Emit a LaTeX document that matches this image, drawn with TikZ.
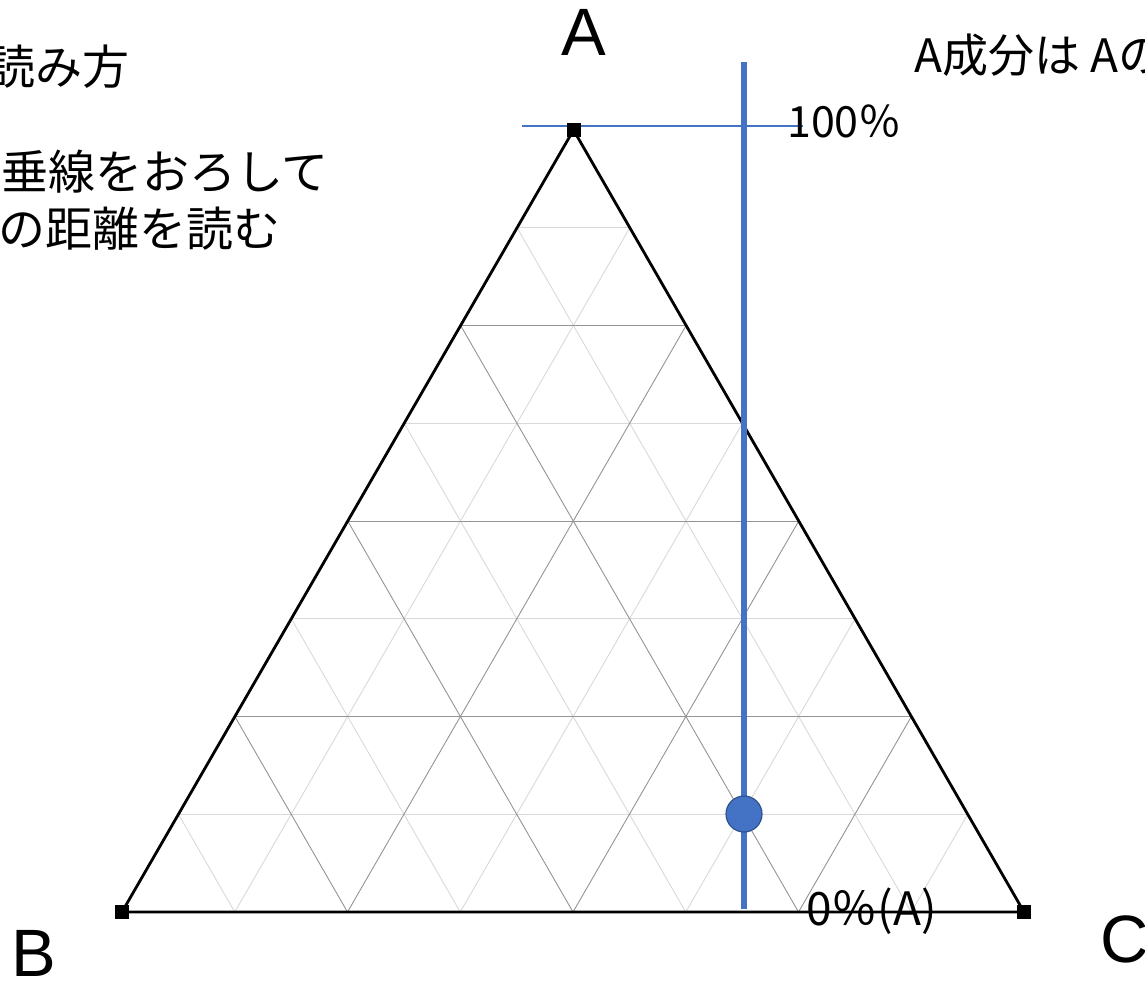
\documentclass[tikz,border=0pt]{standalone}
\usepackage{fontspec}
\usetikzlibrary{calc}
\newfontfamily\jpfont{Noto Sans CJK JP}
\newfontfamily\labfont{Liberation Sans}
\definecolor{accblue}{HTML}{4472C4}
\definecolor{accedge}{HTML}{2F528F}
\tikzset{
  x=1pt, y=-1pt,
  gridlight/.style={draw=black!15, line width=0.9pt},
  griddark/.style={draw=black!42, line width=0.9pt},
  edge/.style={draw=black, line width=2.8pt},
  vsq/.style={fill=black, minimum size=14pt, inner sep=0pt, outer sep=0pt},
  vlab/.style={inner sep=0pt, font=\labfont\fontsize{67}{78}\selectfont},
  jptext/.style={inner sep=0pt, font=\jpfont\fontsize{47}{56}\selectfont},
  pctext/.style={inner sep=0pt, font=\jpfont\fontsize{43}{50}\selectfont},
  zerotext/.style={inner sep=0pt, font=\jpfont\fontsize{46}{54}\selectfont},
  thinblue/.style={draw=accblue, line width=1.3pt},
  thickblue/.style={draw=accblue, line width=6pt},
  dot/.style={circle, fill=accblue, draw=accedge, line width=1.2pt, minimum size=36pt, inner sep=0pt}
}
\begin{document}
\begin{tikzpicture}
\useasboundingbox (0,0) rectangle (1145,981);
\coordinate (A) at (573.5,130);
\coordinate (B) at (122,912);
\coordinate (C) at (1024,912);
% grid
\foreach \i in {1,3,5,7}{
  \draw[gridlight] ($(B)!\i/8!(A)$) -- ($(C)!\i/8!(A)$);
  \draw[gridlight] ($(B)!\i/8!(C)$) -- ($(A)!\i/8!(C)$);
  \draw[gridlight] ($(C)!\i/8!(B)$) -- ($(A)!\i/8!(B)$);
}
\foreach \i in {2,4,6}{
  \draw[griddark] ($(B)!\i/8!(A)$) -- ($(C)!\i/8!(A)$);
  \draw[griddark] ($(B)!\i/8!(C)$) -- ($(A)!\i/8!(C)$);
  \draw[griddark] ($(C)!\i/8!(B)$) -- ($(A)!\i/8!(B)$);
}
% triangle
\draw[edge, line join=miter] (A) -- (B) -- (C) -- cycle;
% thin blue line at 100%
\coordinate (hl) at (522,126);
\coordinate (hr) at (803,126);
\draw[thinblue] (hl) -- (hr);
% vertex squares
\node[vsq] (sqA) at (A) {};
\node[vsq] (sqB) at (B) {};
\node[vsq] (sqC) at (C) {};
% perpendicular
\coordinate (vtop) at (744,62);
\coordinate (vbot) at (744,909);
\draw[thickblue] (vtop) -- (vbot);
\node[dot] (pt) at (744,814) {};
% labels
\node[vlab] (labA) at (584,32.5) {A};
\node[vlab] (labB) at (33.5,953.5) {B};
\node[vlab] (labC) at (1125,939) {C};
\node[pctext, anchor=base west] (p100) at (787,138) {100％};
\node[zerotext, anchor=base west] (p0) at (806,925) {0％(A)};
\node[jptext, anchor=base east] (t1) at (130,85) {読み方};
\node[jptext, anchor=base east] (t2) at (329,190) {垂線をおろして};
\node[jptext, anchor=base east] (t3) at (281,247) {の距離を読む};
\node[zerotext, anchor=base west] (t4) at (914,73) {A成分は Aの};
\end{tikzpicture}
\end{document}
